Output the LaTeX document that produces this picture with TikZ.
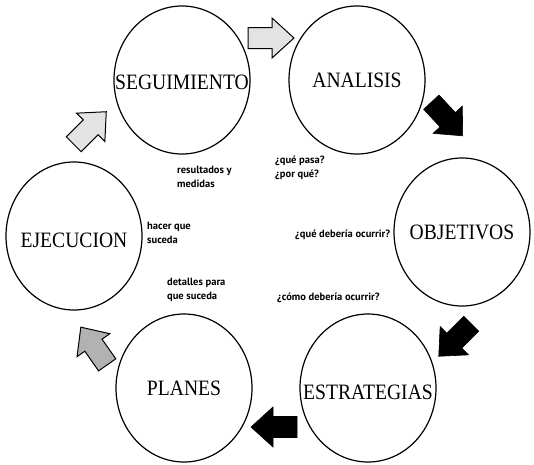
\documentclass[tikz,border=0pt]{standalone}
\usepackage{fontspec}
\setmainfont{Liberation Serif}
\newfontfamily\smallf{PT Sans}
\usetikzlibrary{shapes.geometric}
\newcommand{\tallbox}[1]{\scalebox{1}[1.12]{#1}}
\tikzset{
  stage/.style={draw, ellipse, line width=1.2pt, minimum width=136pt, minimum height=148pt, inner sep=0pt},
  stagetext/.style={font=\fontsize{19.6}{20}\selectfont, inner sep=0pt},
  note/.style={font=\smallf\bfseries\fontsize{10.5}{13.5}\selectfont, align=left, inner sep=0pt, anchor=north west},
  blockarr/.pic={\path[pic actions] (-23,-10.5) -- (1,-10.5) -- (1,-20) -- (23,0) -- (1,20) -- (1,10.5) -- (-23,10.5) -- cycle;},
  lightarr/.style={draw=black, line width=1pt, fill=gray!22},
  darkarr/.style={draw=black, line width=1pt, fill=gray!60},
  blackarr/.style={draw=black, line width=0.6pt, fill=black}
}
\begin{document}
\begin{tikzpicture}[x=1pt,y=1pt]
\useasboundingbox (0,0) rectangle (534,-464);
% stages
\node[stage, label={[stagetext, yshift=-2pt]center:\tallbox{SEGUIMIENTO}}] (seg) at (182,-80) {};
\node[stage, label={[stagetext]center:\tallbox{ANALISIS}}] (ana) at (357,-80) {};
\node[stage, label={[stagetext]center:\tallbox{OBJETIVOS}}] (obj) at (462,-232) {};
\node[stage, label={[stagetext, yshift=-4pt]center:\tallbox{ESTRATEGIAS}}] (est) at (368,-388) {};
\node[stage, label={[stagetext]center:\tallbox{PLANES}}] (pla) at (184,-388) {};
\node[stage, label={[stagetext, yshift=-4pt]center:\tallbox{EJECUCION}}] (eje) at (74,-236) {};
% block arrows
\pic[lightarr] at (271,-38) {blockarr};
\pic[blackarr, rotate=-47] at (447,-119) {blockarr};
\pic[blackarr, rotate=-135] at (455,-340) {blockarr};
\pic[blackarr, rotate=180] at (274,-427) {blockarr};
\pic[darkarr, rotate=125] at (94,-346) {blockarr};
\pic[lightarr, rotate=45] at (90,-128) {blockarr};
% notes
\node[note] (n1) at (177,-166) {resultados y\\medidas};
\node[note] (n2) at (275,-156) {¿qué pasa?\\¿por qué?};
\node[note] (n3) at (147,-222) {hacer que\\suceda};
\node[note, anchor=west] (n4) at (295,-235) {¿qué debería ocurrir?};
\node[note] (n5) at (167,-278) {detalles para\\que suceda};
\node[note, anchor=west] (n6) at (277,-298) {¿cómo debería ocurrir?};
\end{tikzpicture}
\end{document}
